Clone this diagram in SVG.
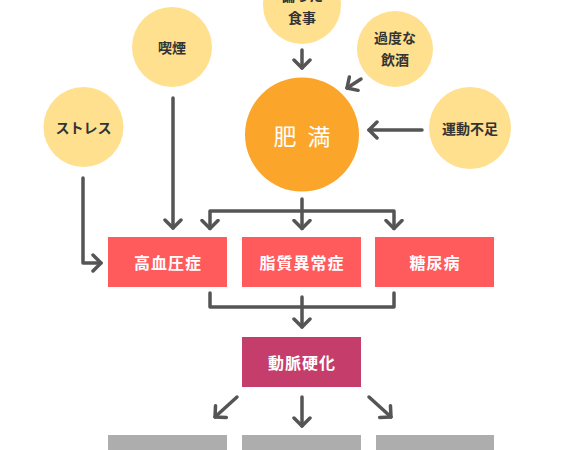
<svg xmlns="http://www.w3.org/2000/svg" width="567" height="450" viewBox="0 0 567 450">
<style>
.c{fill:#ffe08f}
.t{font-family:"Noto Sans CJK JP","Noto Sans",sans-serif;font-weight:bold;font-size:14px;fill:#333;text-anchor:middle;dominant-baseline:central}
.w{font-family:"Noto Sans CJK JP","Noto Sans",sans-serif;font-weight:bold;font-size:16px;fill:#fff;text-anchor:middle;dominant-baseline:central;letter-spacing:1px}
.ln{fill:none;stroke:#555;stroke-width:3.5;stroke-linecap:round;stroke-linejoin:round}
</style>
<defs>
<marker id="a" viewBox="-10 -10 12 20" markerWidth="12" markerHeight="20" refX="0" refY="0" orient="auto" markerUnits="userSpaceOnUse">
<path d="M-8,-8 L0,0 L-8,8" fill="none" stroke="#555" stroke-width="3.5" stroke-linecap="round" stroke-linejoin="round"/>
</marker>
</defs>
<rect width="567" height="450" fill="#fff"/>
<g id="connectors">
<path class="ln" d="M302,50 V68" marker-end="url(#a)"/>
<path class="ln" d="M361,79 L347,88" marker-end="url(#a)"/>
<path class="ln" d="M422,130 H369" marker-end="url(#a)"/>
<path class="ln" d="M173,98 V228" marker-end="url(#a)"/>
<path class="ln" d="M83,178 V263 H101" marker-end="url(#a)"/>
<path class="ln" d="M302,199 V228"/>
<path class="ln" d="M210,228 V211 H394 V228"/>
<path class="ln" d="M210,228 V228.5" marker-end="url(#a)"/>
<path class="ln" d="M302,227 V228.5" marker-end="url(#a)"/>
<path class="ln" d="M394,227 V228.5" marker-end="url(#a)"/>
<path class="ln" d="M210,293 V307 H394 V293"/>
<path class="ln" d="M302,297 V327" marker-end="url(#a)"/>
<path class="ln" d="M237,397 L215,417" marker-end="url(#a)"/>
<path class="ln" d="M302,397 V426" marker-end="url(#a)"/>
<path class="ln" d="M369,397 L391,417" marker-end="url(#a)"/>
</g>
<g id="meal">
<circle class="c" cx="302" cy="5" r="39"/>
<text class="t" x="302" y="-5">偏った</text>
<text class="t" x="302" y="17">食事</text>
</g>
<g id="alcohol">
<circle class="c" cx="395" cy="49" r="38"/>
<text class="t" x="395" y="37">過度な</text>
<text class="t" x="395" y="59">飲酒</text>
</g>
<g id="smoking">
<circle class="c" cx="172" cy="47" r="40"/>
<text class="t" x="172" y="47">喫煙</text>
</g>
<g id="stress">
<circle class="c" cx="83.5" cy="127" r="40"/>
<text class="t" x="83.5" y="127">ストレス</text>
</g>
<g id="exercise">
<circle class="c" cx="470" cy="128" r="41"/>
<text class="t" x="470" y="128">運動不足</text>
</g>
<g id="obesity">
<circle cx="302" cy="134.5" r="57" fill="#fba62a"/>
<text class="w" x="285" y="135" style="font-size:23px;font-weight:normal;letter-spacing:0">肥</text>
<text class="w" x="319" y="135" style="font-size:23px;font-weight:normal;letter-spacing:0">満</text>
</g>
<g id="hypertension">
<rect x="108" y="237" width="119" height="50" fill="#ff5a5c"/>
<text class="w" x="168" y="262">高血圧症</text>
</g>
<g id="dyslipidemia">
<rect x="242" y="237" width="119" height="50" fill="#ff5a5c"/>
<text class="w" x="302" y="262">脂質異常症</text>
</g>
<g id="diabetes">
<rect x="375" y="237" width="119" height="50" fill="#ff5a5c"/>
<text class="w" x="435" y="262">糖尿病</text>
</g>
<g id="arteriosclerosis">
<rect x="242" y="337" width="119" height="50" fill="#c43d6b"/>
<text class="w" x="302" y="362">動脈硬化</text>
</g>
<g id="gray1"><rect x="108" y="435" width="119" height="20" fill="#adadad"/></g>
<g id="gray2"><rect x="242" y="435" width="119" height="20" fill="#adadad"/></g>
<g id="gray3"><rect x="376" y="435" width="118" height="20" fill="#adadad"/></g>
</svg>
